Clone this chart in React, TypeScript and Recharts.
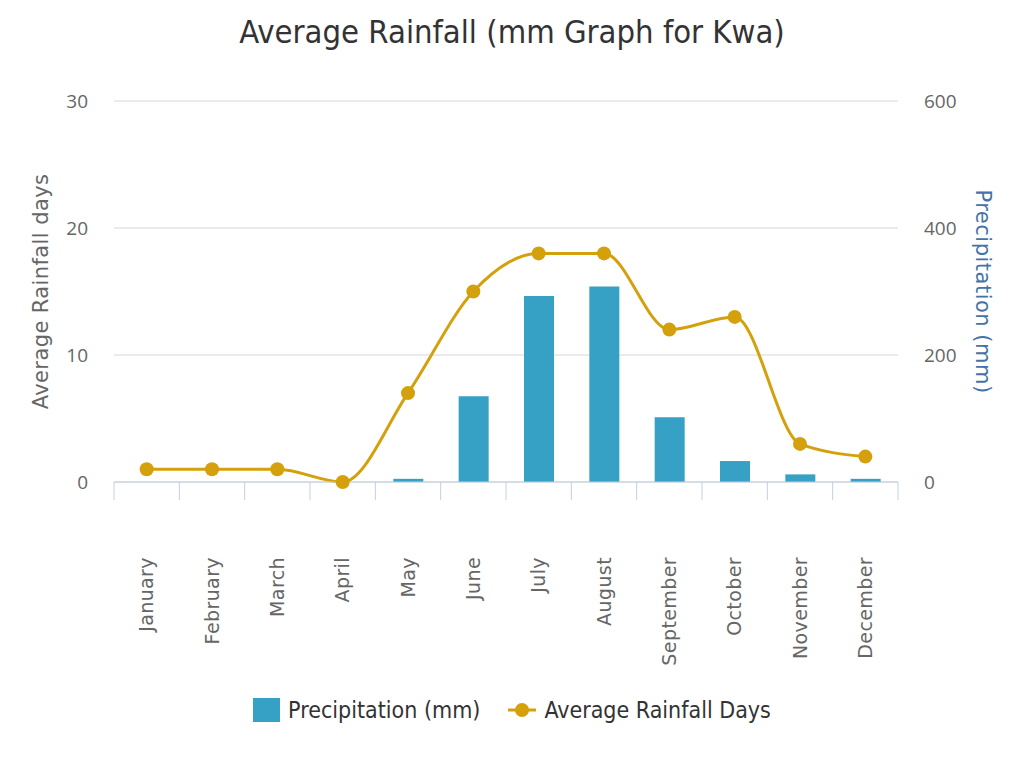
import React from "react";
import {
  ComposedChart,
  Bar,
  Line,
  XAxis,
  YAxis,
  CartesianGrid,
  Legend,
} from "recharts";

const months = [
  "January",
  "February",
  "March",
  "April",
  "May",
  "June",
  "July",
  "August",
  "September",
  "October",
  "November",
  "December",
];
const precipitation = [0, 0, 0, 0, 5, 135, 293, 308, 102, 33, 12, 5];
const rainDays = [1, 1, 1, 0, 7, 15, 18, 18, 12, 13, 3, 2];
const dayTicks = [0, 10, 20, 30];
const mmTicks = [0, 200, 400, 600];
const boundaryTicks = [0, 1, 2, 3, 4, 5, 6, 7, 8, 9, 10, 11, 12];

const chartData = months.map((name, i) => ({
  name,
  slot: i + 0.5,
  precipitation: precipitation[i],
  days: rainDays[i],
}));

const BAR_COLOR = "#37a1c5";
const LINE_COLOR = "#d4a00b";
const AXIS_COLOR = "#c0d0e0";

const MonthTick = (props: any) => {
  const { x, y, payload } = props;
  const ty = y + 57;
  return (
    <text
      x={x}
      y={ty}
      dy="0.35em"
      textAnchor="end"
      transform={`rotate(-90 ${x} ${ty})`}
      fill="#666"
      fontSize={19}
      fontFamily="DejaVu Sans"
      letterSpacing={0.4}
    >
      {payload.value}
    </text>
  );
};

const renderLegend = () => (
  <div
    style={{
      display: "flex",
      justifyContent: "center",
      alignItems: "center",
      fontFamily: "DejaVu Sans Condensed",
      fontSize: 23,
      color: "#333",
    }}
  >
    <span
      style={{
        display: "inline-block",
        width: 27,
        height: 24,
        background: BAR_COLOR,
        marginRight: 8,
      }}
    />
    <span style={{ marginRight: 28 }}>Precipitation (mm)</span>
    <svg width={28} height={16} style={{ marginRight: 8 }}>
      <line x1={0} y1={8} x2={28} y2={8} stroke={LINE_COLOR} strokeWidth={3} />
      <circle cx={14} cy={8} r={7} fill={LINE_COLOR} />
    </svg>
    <span>Average Rainfall Days</span>
  </div>
);

export default function App() {
  return (
    <div style={{ position: "absolute", left: 0, top: 0, width: 1024, height: 768, background: "#fff" }}>
      <div
        style={{
          position: "absolute",
          left: 0,
          top: 13,
          width: 1024,
          textAlign: "center",
          fontFamily: "DejaVu Sans Condensed",
          fontSize: 32.5,
          color: "#333",
        }}
      >
        Average Rainfall (mm Graph for Kwa)
      </div>
      <ComposedChart
        width={1024}
        height={768}
        data={chartData}
        margin={{ top: 101, right: 0, left: 0, bottom: 35 }}
      >
        <CartesianGrid
          xAxisId="axisB"
          yAxisId="left"
          vertical={false}
          stroke="#d2d6dc"
        />
        <XAxis
          xAxisId="axisA"
          type="number"
          dataKey="slot"
          domain={[0, 12]}
          ticks={boundaryTicks}
          allowDataOverflow
          height={18}
          tickSize={18}
          axisLine={{ stroke: AXIS_COLOR }}
          tickLine={{ stroke: AXIS_COLOR }}
          tick={() => <g />}
        />
        <XAxis
          xAxisId="axisB"
          dataKey="name"
          height={197}
          tickSize={0}
          tickMargin={0}
          axisLine={false}
          tickLine={false}
          interval={0}
          tick={<MonthTick />}
        />
        <YAxis
          yAxisId="left"
          width={114}
          domain={[0, 30]}
          ticks={dayTicks}
          axisLine={false}
          tickLine={false}
          tickSize={0}
          tickMargin={26}
          tick={{ fill: "#666", fontSize: 19, fontFamily: "Open Sans" }}
          label={{
            value: "Average Rainfall days",
            angle: -90,
            position: "center",
            dx: -16,
            style: { fill: "#666", fontSize: 21, fontFamily: "DejaVu Sans", letterSpacing: 0.4 },
          }}
        />
        <YAxis
          yAxisId="right"
          orientation="right"
          width={126}
          domain={[0, 600]}
          ticks={mmTicks}
          axisLine={false}
          tickLine={false}
          tickSize={0}
          tickMargin={26}
          tick={{ fill: "#666", fontSize: 19, fontFamily: "Open Sans", textAnchor: "start" }}
          label={{
            value: "Precipitation (mm)",
            angle: 90,
            position: "center",
            dx: 22,
            style: { fill: "#4572a7", fontSize: 21, fontFamily: "DejaVu Sans", letterSpacing: 0.5 },
          }}
        />
        <Legend verticalAlign="bottom" height={36} content={renderLegend} />
        <Bar
          xAxisId="axisB"
          yAxisId="right"
          dataKey="precipitation"
          name="Precipitation (mm)"
          fill={BAR_COLOR}
          barSize={30}
          isAnimationActive={false}
        />
        <Line
          xAxisId="axisB"
          yAxisId="left"
          type="monotone"
          dataKey="days"
          name="Average Rainfall Days"
          stroke={LINE_COLOR}
          strokeWidth={3}
          dot={{ r: 7, fill: LINE_COLOR, stroke: "none" }}
          activeDot={false}
          isAnimationActive={false}
        />
      </ComposedChart>
    </div>
  );
}
